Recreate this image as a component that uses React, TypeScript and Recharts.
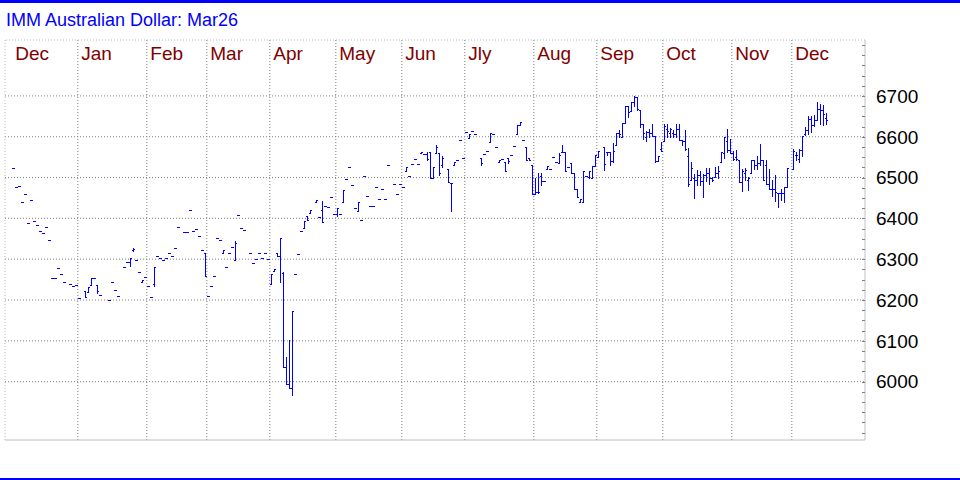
import { ComposedChart, Bar, XAxis, YAxis, CartesianGrid, ReferenceLine } from 'recharts'

// trading-day index of each bar (gaps = no trade that day)
const days = [
  0, 1, 2, 3, 4, 5, 6, 7, 8, 9, 10, 11, 12, 13, 14, 15, 16, 17, 19, 20, 21, 22, 24, 25, 26, 27, 28, 29,
  32, 33, 34, 35, 37, 38, 39, 40, 41, 42, 43, 44, 45, 46, 47, 48, 49, 50, 51, 52, 53, 54, 55, 57, 58, 59,
  60, 61, 62, 63, 64, 65, 66, 67, 68, 69, 70, 71, 72, 73, 74, 75, 76, 77, 79, 80, 81, 82, 83, 84, 85, 86,
  87, 88, 89, 90, 91, 92, 93, 94, 95, 96, 97, 98, 99, 101, 102, 103, 104, 105, 106, 107, 108, 109, 110,
  111, 112, 113, 114, 115, 116, 117, 118, 119, 120, 121, 122, 123, 124, 125, 127, 128, 129, 130, 131, 132,
  133, 134, 135, 136, 137, 138, 139, 140, 141, 142, 143, 145, 146, 147, 148, 149, 150, 151, 152, 153, 154,
  156, 157, 158, 159, 160, 161, 162, 163, 164, 165, 166, 167, 168, 169, 170, 171, 172, 173, 174, 175, 176,
  177, 178, 179, 180, 181, 182, 183, 184, 185, 186, 187, 188, 189, 190, 191, 192, 193, 194, 195, 197, 198,
  199, 200, 201, 202, 203, 204, 205, 206, 207, 208, 209, 210, 211, 212, 213, 214, 215, 216, 217, 218, 219,
  220, 221, 222, 223, 224, 225, 226, 227, 228, 229, 230, 231, 232, 233, 234, 235, 236, 237, 238, 239, 240,
  241, 242, 243, 244, 245, 246, 247, 248, 249, 250, 251, 252, 253, 254, 255, 256, 257, 258, 260, 261, 262,
  263, 264, 265, 266, 267, 268, 269, 270, 271,
]

const opens = [
  6523, 6476, 6479, 6440, 6460, 6389, 6445, 6393, 6384, 6370, 6365, 6379, 6348, 6254, 6254, 6279, 6264, 6244, 6239, 6234, 6237, 6205, 6222, 6220, 6237, 6254, 6237, 6212,
  6200, 6244, 6224, 6210, 6281, 6293, 6293, 6322, 6298, 6269, 6244, 6256, 6234, 6207, 6240, 6308, 6303, 6298, 6303, 6316, 6308, 6328, 6379, 6367, 6367, 6420,
  6369, 6374, 6356, 6322, 6315, 6210, 6234, 6259, 6351, 6346, 6315, 6281, 6315, 6330, 6298, 6408, 6377, 6372, 6315, 6290, 6300, 6315, 6303, 6315, 6300, 6240,
  6270, 6315, 6307, 6265, 6036, 5994, 5985, 6264, 6312, 6369, 6377, 6406, 6413, 6439, 6403, 6420, 6430, 6428, 6452, 6410, 6410, 6410, 6440,
  6496, 6525, 6481, 6425, 6418, 6396, 6503, 6455, 6430, 6430, 6476, 6447, 6472, 6447, 6530, 6484, 6459, 6484, 6476, 6515, 6503,
  6533, 6545, 6533, 6560, 6557, 6557, 6562, 6498, 6560, 6560, 6530, 6520, 6486, 6530, 6543, 6592, 6548, 6611, 6597, 6614, 6606,
  6548, 6557, 6565, 6587, 6606, 6574, 6538, 6545, 6538, 6548, 6555, 6577, 6606, 6628, 6592, 6574, 6548, 6530, 6459, 6464, 6505,
  6491, 6520, 6520, 6550, 6538, 6535, 6562, 6562, 6525, 6535, 6511, 6472, 6440, 6440, 6503, 6501, 6498, 6528, 6550, 6574, 6562,
  6562, 6540, 6579, 6609, 6599, 6633, 6675, 6663, 6685, 6697, 6665, 6631, 6600, 6611, 6609, 6601, 6540, 6570, 6589, 6620, 6610,
  6610, 6606, 6618, 6592, 6589, 6553, 6494, 6500, 6494, 6506, 6491, 6506, 6510, 6499, 6501, 6510, 6538, 6560, 6590, 6567, 6560,
  6550, 6543, 6489, 6510, 6494, 6511, 6543, 6530, 6535, 6543, 6530, 6484, 6472, 6472, 6462, 6462, 6462, 6476, 6520, 6555, 6545,
  6567, 6606, 6616, 6643, 6629, 6641, 6668, 6665, 6645,
]

const highs = [
  6523, 6476, 6479, 6440, 6460, 6389, 6445, 6393, 6384, 6370, 6365, 6379, 6348, 6254, 6254, 6279, 6264, 6244, 6239, 6234, 6237, 6205, 6222, 6232, 6254, 6254, 6237, 6212,
  6200, 6244, 6224, 6210, 6281, 6293, 6303, 6328, 6298, 6269, 6249, 6256, 6234, 6207, 6281, 6308, 6303, 6298, 6303, 6316, 6308, 6328, 6379, 6367, 6367, 6420,
  6369, 6374, 6356, 6322, 6315, 6210, 6234, 6259, 6351, 6346, 6322, 6281, 6315, 6330, 6344, 6408, 6377, 6372, 6315, 6290, 6300, 6315, 6303, 6315, 6300, 6264,
  6276, 6315, 6352, 6268, 6060, 6102, 6172, 6264, 6312, 6369, 6394, 6406, 6420, 6445, 6403, 6442, 6430, 6428, 6452, 6410, 6425, 6410, 6469,
  6496, 6525, 6481, 6425, 6440, 6396, 6503, 6455, 6430, 6430, 6476, 6447, 6472, 6447, 6530, 6484, 6459, 6484, 6476, 6525, 6503,
  6533, 6545, 6533, 6562, 6557, 6562, 6562, 6525, 6579, 6560, 6553, 6520, 6486, 6538, 6543, 6592, 6548, 6611, 6606, 6614, 6606,
  6548, 6557, 6565, 6609, 6606, 6574, 6543, 6545, 6538, 6548, 6555, 6577, 6628, 6636, 6592, 6574, 6548, 6530, 6498, 6511, 6511,
  6491, 6528, 6520, 6550, 6538, 6560, 6579, 6562, 6525, 6535, 6511, 6472, 6447, 6516, 6503, 6516, 6528, 6555, 6565, 6574, 6562,
  6562, 6584, 6609, 6616, 6633, 6675, 6675, 6685, 6699, 6697, 6665, 6631, 6614, 6618, 6631, 6601, 6553, 6587, 6631, 6631, 6621,
  6616, 6631, 6631, 6592, 6616, 6572, 6538, 6508, 6518, 6516, 6508, 6523, 6523, 6501, 6525, 6528, 6562, 6599, 6618, 6594, 6565,
  6567, 6543, 6520, 6523, 6501, 6543, 6543, 6553, 6582, 6543, 6543, 6520, 6494, 6506, 6462, 6472, 6476, 6523, 6570, 6562, 6570,
  6601, 6624, 6650, 6650, 6653, 6685, 6680, 6677, 6658,
]

const lows = [
  6523, 6476, 6479, 6440, 6460, 6389, 6445, 6393, 6384, 6370, 6365, 6379, 6348, 6254, 6254, 6279, 6264, 6244, 6239, 6234, 6237, 6205, 6208, 6220, 6237, 6254, 6217, 6212,
  6200, 6244, 6224, 6210, 6281, 6293, 6284, 6320, 6298, 6269, 6244, 6256, 6234, 6207, 6235, 6308, 6303, 6298, 6303, 6316, 6308, 6328, 6379, 6367, 6367, 6420,
  6369, 6374, 6356, 6322, 6258, 6210, 6234, 6259, 6351, 6346, 6315, 6281, 6315, 6330, 6298, 6408, 6377, 6372, 6315, 6290, 6300, 6315, 6303, 6315, 6300, 6239,
  6270, 6307, 6243, 6036, 5994, 5985, 5967, 6264, 6312, 6369, 6377, 6396, 6413, 6439, 6403, 6391, 6430, 6428, 6452, 6410, 6406, 6410, 6440,
  6496, 6525, 6481, 6425, 6418, 6396, 6503, 6455, 6430, 6430, 6476, 6447, 6472, 6447, 6530, 6484, 6459, 6484, 6476, 6515, 6503,
  6533, 6545, 6533, 6560, 6557, 6543, 6498, 6498, 6560, 6506, 6525, 6489, 6418, 6530, 6543, 6592, 6548, 6611, 6597, 6614, 6606,
  6530, 6557, 6565, 6587, 6606, 6574, 6538, 6545, 6516, 6535, 6555, 6577, 6606, 6628, 6592, 6543, 6543, 6459, 6459, 6462, 6482,
  6491, 6520, 6520, 6550, 6538, 6535, 6562, 6516, 6525, 6511, 6472, 6453, 6440, 6440, 6503, 6498, 6498, 6528, 6550, 6518, 6555,
  6530, 6538, 6579, 6599, 6599, 6633, 6648, 6663, 6675, 6665, 6624, 6594, 6589, 6599, 6601, 6538, 6540, 6565, 6589, 6599, 6599,
  6599, 6599, 6592, 6580, 6567, 6479, 6494, 6450, 6482, 6482, 6452, 6491, 6484, 6491, 6501, 6498, 6538, 6548, 6562, 6560, 6543,
  6543, 6489, 6467, 6494, 6469, 6511, 6520, 6520, 6530, 6494, 6484, 6472, 6455, 6442, 6428, 6445, 6440, 6476, 6520, 6543, 6538,
  6553, 6604, 6606, 6611, 6626, 6641, 6631, 6628, 6631,
]

const closes = [
  6523, 6476, 6479, 6440, 6460, 6389, 6445, 6393, 6384, 6370, 6365, 6379, 6348, 6254, 6254, 6279, 6264, 6244, 6239, 6234, 6237, 6205, 6208, 6232, 6254, 6254, 6222, 6212,
  6200, 6244, 6224, 6210, 6281, 6293, 6303, 6325, 6298, 6269, 6249, 6256, 6234, 6207, 6281, 6308, 6303, 6298, 6303, 6316, 6308, 6328, 6379, 6367, 6367, 6420,
  6369, 6374, 6356, 6322, 6258, 6210, 6234, 6259, 6351, 6346, 6322, 6281, 6315, 6330, 6339, 6408, 6377, 6372, 6315, 6290, 6300, 6315, 6303, 6315, 6300, 6264,
  6276, 6307, 6352, 6036, 5994, 5985, 6172, 6264, 6312, 6369, 6394, 6396, 6420, 6445, 6403, 6391, 6430, 6428, 6452, 6410, 6425, 6410, 6469,
  6496, 6525, 6481, 6425, 6440, 6396, 6503, 6455, 6430, 6430, 6476, 6447, 6472, 6447, 6530, 6484, 6459, 6484, 6476, 6525, 6503,
  6533, 6545, 6533, 6562, 6557, 6545, 6500, 6525, 6575, 6511, 6547, 6489, 6486, 6538, 6543, 6592, 6548, 6611, 6606, 6614, 6606,
  6535, 6557, 6565, 6609, 6606, 6574, 6543, 6545, 6516, 6540, 6555, 6577, 6628, 6636, 6592, 6543, 6543, 6459, 6464, 6464, 6491,
  6491, 6528, 6520, 6550, 6538, 6555, 6562, 6516, 6525, 6511, 6472, 6453, 6447, 6516, 6503, 6516, 6528, 6555, 6565, 6533, 6562,
  6540, 6565, 6609, 6606, 6633, 6675, 6660, 6685, 6697, 6668, 6630, 6609, 6611, 6609, 6601, 6540, 6553, 6565, 6626, 6614, 6618,
  6606, 6618, 6592, 6589, 6570, 6485, 6523, 6494, 6506, 6491, 6506, 6510, 6499, 6494, 6510, 6516, 6562, 6599, 6567, 6560, 6545,
  6545, 6489, 6516, 6518, 6499, 6543, 6530, 6535, 6543, 6494, 6484, 6472, 6472, 6464, 6462, 6462, 6476, 6523, 6565, 6555, 6567,
  6601, 6616, 6643, 6629, 6641, 6668, 6665, 6655, 6641,
]

const monthLabels = ['Dec', 'Jan', 'Feb', 'Mar', 'Apr', 'May', 'Jun', 'Jly', 'Aug', 'Sep', 'Oct', 'Nov', 'Dec']
// first trading-day index of each month
const monthStarts = [0, 22, 45, 65, 86, 108, 130, 151, 174, 195, 217, 240, 260]
const priceLabels = [6000, 6100, 6200, 6300, 6400, 6500, 6600, 6700]

const X_DOMAIN: [number, number] = [-2.77, 283.9]
const Y_DOMAIN: [number, number] = [5857, 6837]
const FONT = '"Liberation Sans", Arial, sans-serif'
const BLUE = '#0000ff'

const data = days.map((day, i) => ({
  day,
  o: opens[i],
  h: highs[i],
  l: lows[i],
  c: closes[i],
  range: [lows[i], highs[i]],
}))

const monthLines = monthStarts.map((d) => d - 0.5)
const minorTicks: number[] = []
for (let v = 5875; v <= 6825; v += 25) minorTicks.push(v)

function OhlcBar(props: any) {
  const { x, y, width, height, payload } = props
  if (x == null || y == null || !payload) return null
  const cx = Math.round(x + width / 2)
  const top = Math.min(y, y + height)
  const bottom = Math.max(y, y + height)
  const span = payload.h - payload.l
  const yAt = (v: number) => (span > 0 ? top + ((payload.h - v) / span) * (bottom - top) : top)
  const t = Math.round(top)
  const b = Math.round(bottom)
  return (
    <g fill={BLUE} shapeRendering="crispEdges">
      <rect x={cx} y={t} width={1} height={b - t + 1} />
      <rect x={cx - 1} y={Math.round(yAt(payload.o))} width={1} height={1} />
      <rect x={cx + 1} y={Math.round(yAt(payload.c))} width={1} height={1} />
    </g>
  )
}

function MonthLabel(props: any) {
  const { viewBox, text } = props
  if (!viewBox) return null
  return (
    <text x={viewBox.x + 3.5} y={viewBox.y + 20} fill="#800000" fontSize={19} fontFamily={FONT} textAnchor="start">
      {text}
    </text>
  )
}

function PriceTick(props: any) {
  const { x, y, payload } = props
  const v = payload.value as number
  return (
    <g>
      <line x1={x - 14} x2={x - 11} y1={Math.round(y) + 0.5} y2={Math.round(y) + 0.5} stroke="#808080" />
      {priceLabels.includes(v) && (
        <text x={x} y={y} dy="0.36em" fill="#000" fontSize={19} fontFamily={FONT} textAnchor="start">
          {v}
        </text>
      )}
    </g>
  )
}

export default function App() {
  return (
    <div style={{ position: 'absolute', left: 0, top: 0, width: 960, height: 480, background: '#fff' }}>
      <div style={{ position: 'absolute', left: 0, top: 0, width: 960, height: 3, background: BLUE }} />
      <div
        style={{
          position: 'absolute',
          left: 6,
          top: 11,
          fontFamily: FONT,
          fontSize: 18,
          lineHeight: '18px',
          color: BLUE,
          whiteSpace: 'nowrap',
        }}
      >
        IMM Australian Dollar: Mar26
      </div>
      <ComposedChart width={960} height={480} data={data} margin={{ top: 40, right: 0, bottom: 40, left: 5 }}>
        <CartesianGrid
          stroke="#808080"
          strokeDasharray="1 2"
          horizontalValues={priceLabels}
          verticalValues={monthLines}
        />
        <XAxis dataKey="day" type="number" domain={X_DOMAIN} allowDataOverflow hide />
        <YAxis
          type="number"
          orientation="right"
          domain={Y_DOMAIN}
          allowDataOverflow
          ticks={minorTicks}
          interval={0}
          width={95}
          axisLine={{ stroke: '#c0c0c0' }}
          tickLine={false}
          tickSize={0}
          tickMargin={11}
          tick={<PriceTick />}
        />
        <ReferenceLine x={X_DOMAIN[0]} stroke="#b8b8b8" strokeDasharray="1 2" />
        <ReferenceLine y={Y_DOMAIN[1]} stroke="#b8b8b8" strokeDasharray="1 2" />
        <ReferenceLine y={Y_DOMAIN[0]} stroke="#c0c0c0" />
        {monthLines.map((d, i) => (
          <ReferenceLine key={i} x={d} stroke="none" label={<MonthLabel text={monthLabels[i]} />} />
        ))}
        <Bar dataKey="range" barSize={3} shape={<OhlcBar />} isAnimationActive={false} />
      </ComposedChart>
      <div style={{ position: 'absolute', left: 0, top: 478, width: 960, height: 2, background: BLUE }} />
    </div>
  )
}
